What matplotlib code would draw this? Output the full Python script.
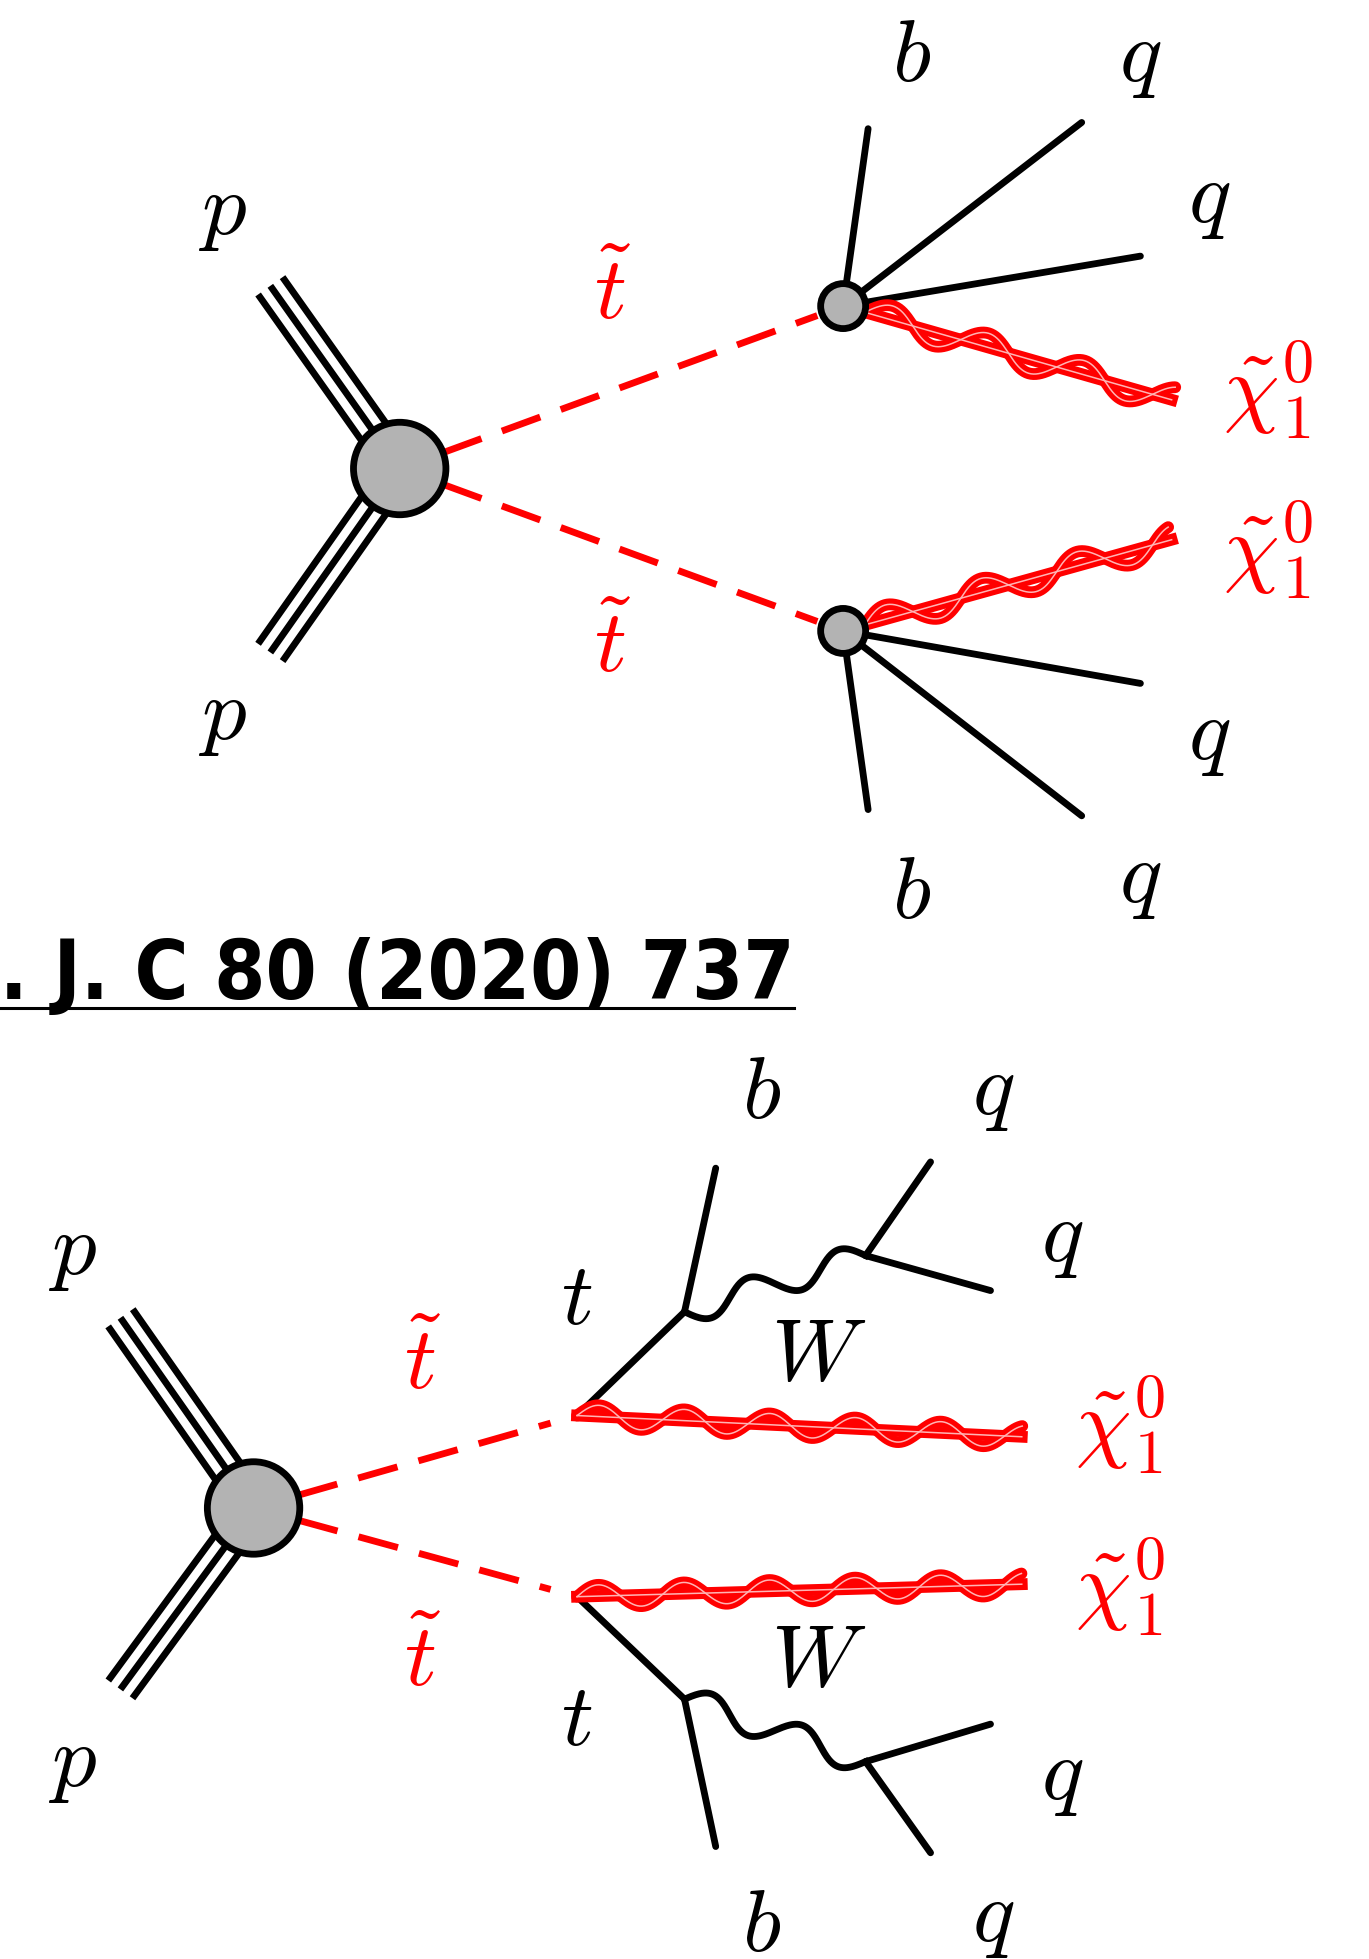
import numpy as np
import matplotlib.pyplot as plt
from matplotlib.patches import Circle

plt.rcParams['mathtext.fontset'] = 'cm'

# canvas in reference units (x right, y down)
W, H = 1096, 1568
RED = '#ff0000'
GREY = '#b3b3b3'

# ---- top diagram: stop -> b q q chi (4-body) ----
top_blob = (320, 375)
top_blob_r = 37
top_beams = [(218, 231), (218, 520)]
top_vertices = [(675, 245), (675, 505)]
top_vertex_r = 18
top_jets = [
    [(695, 103), (866, 98), (913, 205)],
    [(695, 648), (866, 653), (913, 547)],
]
top_chi_ends = [(938, 320), (938, 432)]
top_labels = [
    (178, 168, r'$p$', 'k'), (178, 572, r'$p$', 'k'),
    (490, 236, r'$\tilde{t}$', RED), (490, 518, r'$\tilde{t}$', RED),
    (730, 45, r'$b$', 'k'), (913, 45, r'$q$', 'k'), (968, 158, r'$q$', 'k'),
    (1015, 312, r'$\tilde{\chi}_1^0$', RED), (1015, 440, r'$\tilde{\chi}_1^0$', RED),
    (968, 588, r'$q$', 'k'), (730, 715, r'$b$', 'k'), (913, 702, r'$q$', 'k'),
]

# ---- bottom diagram: stop -> t chi, t -> b W ----
bot_blob = (203, 1207)
bot_blob_r = 37
bot_beams = [(98, 1057), (98, 1350)]
bot_vertices = [(462, 1133), (462, 1278)]
bot_t_ends = [(548, 1050), (548, 1360)]
bot_b_ends = [(573, 935), (573, 1478)]
bot_w_ends = [(693, 1005), (693, 1410)]
bot_q_ends = [[(745, 930), (793, 1033)], [(745, 1483), (793, 1380)]]
bot_chi_ends = [(818, 1150), (818, 1268)]
bot_labels = [
    (58, 1000, r'$p$', 'k'), (58, 1410, r'$p$', 'k'),
    (338, 1092, r'$\tilde{t}$', RED), (338, 1330, r'$\tilde{t}$', RED),
    (462, 1040, r'$t$', 'k'), (462, 1377, r'$t$', 'k'),
    (655, 1085, r'$W$', 'k'), (655, 1330, r'$W$', 'k'),
    (610, 875, r'$b$', 'k'), (795, 872, r'$q$', 'k'), (850, 990, r'$q$', 'k'),
    (897, 1140, r'$\tilde{\chi}_1^0$', RED), (897, 1270, r'$\tilde{\chi}_1^0$', RED),
    (850, 1420, r'$q$', 'k'), (610, 1542, r'$b$', 'k'), (795, 1534, r'$q$', 'k'),
]

ref_text = 'Eur. Phys. J. C 80 (2020) 737'
ref_right, ref_base = 636, 800

LW = 4.9


def wave(p0, p1, n, amp, phase=0.0):
    p0, p1 = np.asarray(p0, float), np.asarray(p1, float)
    d = p1 - p0
    nrm = np.array([-d[1], d[0]]) / np.hypot(*d)
    t = np.linspace(0, 1, 400)
    pts = p0 + np.outer(t, d) + np.outer(amp * np.sin(2 * np.pi * n * t + phase), nrm)
    return pts[:, 0], pts[:, 1]


def triple(ax, p0, p1, gap=12):
    p0, p1 = np.asarray(p0, float), np.asarray(p1, float)
    d = p1 - p0
    nrm = np.array([-d[1], d[0]]) / np.hypot(*d)
    for k in (-1, 0, 1):
        a, b = p0 + k * gap * nrm, p1 + k * gap * nrm
        ax.plot([a[0], b[0]], [a[1], b[1]], color='k', lw=LW, zorder=2)


def gaugino(ax, p0, p1, n, amp, phase=0.0):
    x, y = wave(p0, p1, n, amp, phase)
    ax.plot(x, y, color=RED, lw=8.5, solid_capstyle='round', zorder=3)
    ax.plot([p0[0], p1[0]], [p0[1], p1[1]], color=RED, lw=8.5, zorder=3)
    ax.plot(x, y, color='#ffb4b4', lw=1.1, zorder=4)
    ax.plot([p0[0], p1[0]], [p0[1], p1[1]], color='#ffb4b4', lw=1.1, zorder=4)


def line(ax, p0, p1, **kw):
    ax.plot([p0[0], p1[0]], [p0[1], p1[1]], color='k', lw=LW,
            solid_capstyle='round', zorder=2, **kw)


def stub(p0, p1, r):
    # move p0 to the edge of a blob of radius r
    p0, p1 = np.asarray(p0, float), np.asarray(p1, float)
    d = p1 - p0
    return p0 + d / np.hypot(*d) * r


fig = plt.figure(figsize=(13.69, 19.59), dpi=100)
ax = fig.add_axes([0, 0, 1, 1])
ax.set_xlim(0, W)
ax.set_ylim(H, 0)
ax.axis('off')

# top
for end in top_beams:
    triple(ax, top_blob, end)
for v, jets, chi in zip(top_vertices, top_jets, top_chi_ends):
    s = stub(top_blob, v, top_blob_r)
    e = stub(v, top_blob, top_vertex_r + 4)
    ax.plot([s[0], e[0]], [s[1], e[1]], color=RED, lw=LW, dashes=(6.0, 3.2), zorder=2)
    for j in jets:
        line(ax, v, j)
    gaugino(ax, stub(v, chi, top_vertex_r), chi, 3.2, 11, np.pi)
    ax.add_patch(Circle(v, top_vertex_r, fc=GREY, ec='k', lw=LW, zorder=5))
ax.add_patch(Circle(top_blob, top_blob_r, fc=GREY, ec='k', lw=LW, zorder=5))

# bottom
for end in bot_beams:
    triple(ax, bot_blob, end)
for i, v in enumerate(bot_vertices):
    s = stub(bot_blob, v, bot_blob_r)
    e = stub(v, bot_blob, 22)
    ax.plot([s[0], e[0]], [s[1], e[1]], color=RED, lw=LW, dashes=(6.0, 3.2), zorder=2)
    tv = bot_t_ends[i]
    wv = bot_w_ends[i]
    line(ax, v, tv)
    line(ax, tv, bot_b_ends[i])
    wx, wy = wave(tv, wv, 2.0, 11, 0 if i == 0 else np.pi)
    ax.plot(wx, wy, color='k', lw=LW, zorder=2)
    for q in bot_q_ends[i]:
        line(ax, wv, q)
    gaugino(ax, v, bot_chi_ends[i], 5.2, 9, np.pi)
ax.add_patch(Circle(bot_blob, bot_blob_r, fc=GREY, ec='k', lw=LW, zorder=5))

for x, y, s, c in top_labels + bot_labels:
    ax.text(x, y, s, color=c, fontsize=64, ha='center', va='center', zorder=6)

# journal reference, cut at the left edge as in the original
ax.text(ref_right, ref_base, ref_text, ha='right', va='baseline', fontsize=59,
        fontweight='bold', fontstretch='condensed', family='DejaVu Sans', zorder=6)
ax.plot([0, ref_right], [ref_base + 7, ref_base + 7], color='k', lw=2.2, zorder=6)

fig.savefig('out.png', dpi=100)
